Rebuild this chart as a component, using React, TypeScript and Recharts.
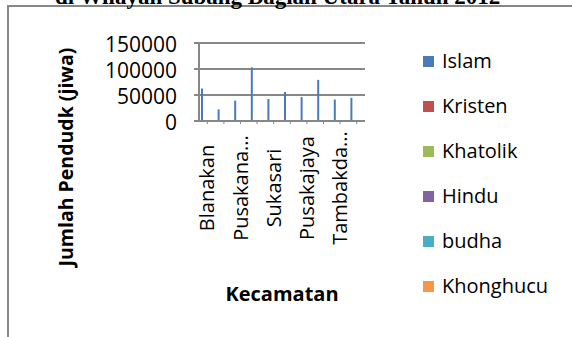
import React from "react";
import { BarChart, Bar, XAxis, YAxis, CartesianGrid, Legend } from "recharts";

const categories = [
  "Blanakan",
  "Legonkulon",
  "Pusakanagara",
  "Ciasem",
  "Sukasari",
  "Patokbeusi",
  "Pusakajaya",
  "Pamanukan",
  "Tambakdahan",
  "Compreng",
];
const islam = [62300, 22300, 39100, 103100, 42200, 55700, 45900, 79100, 41200, 44500];
const kristen = [310, 45, 160, 420, 90, 120, 140, 260, 60, 75];
const khatolik = [120, 20, 70, 210, 40, 55, 60, 130, 25, 30];
const hindu = [12, 3, 5, 20, 2, 4, 6, 10, 1, 3];
const budha = [40, 5, 30, 85, 10, 15, 20, 45, 8, 12];
const khonghucu = [2, 0, 1, 5, 0, 1, 0, 3, 0, 1];
const yTicks = [0, 50000, 100000, 150000];

const seriesNames = ["Islam", "Kristen", "Khatolik", "Hindu", "budha", "Khonghucu"];
const seriesValues = [islam, kristen, khatolik, hindu, budha, khonghucu];
const seriesColors = ["#4A7AB8", "#C0504D", "#9BBB59", "#8064A2", "#4BACC6", "#F79646"];

const data = categories.map((name, i) => {
  const row: any = { name };
  seriesNames.forEach((s, k) => {
    row[s] = seriesValues[k][i];
  });
  return row;
});

const FONT = "'Open Sans', sans-serif";
const GRAY = "#878787";

const shorten = (s: string) => (s.length > 10 ? s.slice(0, 8) + "..." : s);

const XTick = (props: any) => {
  const { x, index, payload } = props;
  if (index % 2 !== 0) return null;
  return (
    <text
      transform={`translate(${x},188) rotate(-90)`}
      textAnchor="middle"
      y={7}
      fontFamily={FONT}
      fontSize={20}
      fill="#000"
    >
      {shorten(payload.value)}
    </text>
  );
};

const LegendContent = (props: any) => {
  const payload = [...(props.payload || [])].sort(
    (a: any, b: any) => seriesNames.indexOf(a.value) - seriesNames.indexOf(b.value)
  );
  return (
    <div style={{ width: 150 }}>
      {payload.map((p: any) => (
        <div
          key={p.value}
          style={{ height: 45, display: "flex", alignItems: "center" }}
        >
          <div style={{ width: 11, height: 11, background: p.color, marginRight: 8 }} />
          <span style={{ fontFamily: FONT, fontSize: 20, color: "#000", lineHeight: "20px" }}>
            {p.value}
          </span>
        </div>
      ))}
    </div>
  );
};

export default function App() {
  return (
    <div
      style={{
        position: "fixed",
        left: 0,
        top: 0,
        width: 572,
        height: 337,
        overflow: "hidden",
        background: "#fff",
      }}
    >
      <div
        style={{
          position: "absolute",
          left: 7,
          top: 5,
          right: 0,
          bottom: 0,
          borderTop: `2px solid ${GRAY}`,
          borderLeft: `2px solid ${GRAY}`,
        }}
      />
      <div style={{ position: "absolute", left: 0, top: 0 }}>
        <BarChart
          width={572}
          height={337}
          data={data}
          margin={{ top: 43, right: 207, left: 0, bottom: 0 }}
          barGap={0}
        >
          <CartesianGrid vertical={false} stroke={GRAY} strokeWidth={2} />
          <XAxis
            dataKey="name"
            interval={0}
            height={216}
            tick={<XTick />}
            tickSize={3}
            axisLine={{ stroke: GRAY, strokeWidth: 2 }}
            tickLine={{ stroke: GRAY, strokeWidth: 1 }}
            label={{
              value: "Kecamatan",
              position: "insideBottom",
              offset: 36,
              fontFamily: FONT,
              fontSize: 20,
              fontWeight: "bold",
              fill: "#000",
            }}
          />
          <YAxis
            width={199}
            domain={[0, 150000]}
            ticks={yTicks}
            interval={0}
            tickSize={5}
            tickMargin={17}
            axisLine={{ stroke: GRAY, strokeWidth: 2 }}
            tickLine={{ stroke: GRAY, strokeWidth: 2 }}
            tick={{ fontFamily: FONT, fontSize: 21, fill: "#000", dy: 2 }}
          />
          <Legend
            layout="vertical"
            align="center"
            verticalAlign="middle"
            wrapperStyle={{ left: 423, top: 38.5, width: 150 }}
            content={<LegendContent />}
          />
          {seriesNames.map((s, k) => (
            <Bar
              key={s}
              dataKey={s}
              fill={seriesColors[k]}
              barSize={2}
              isAnimationActive={false}
            />
          ))}
        </BarChart>
      </div>
      <svg
        width={572}
        height={337}
        style={{ position: "absolute", left: 0, top: 0, pointerEvents: "none" }}
      >
        <text
          x={65}
          y={157}
          transform="rotate(-90 65 157)"
          textAnchor="middle"
          dominantBaseline="central"
          fontFamily={FONT}
          fontSize={19.5}
          fontWeight="bold"
          fill="#000"
        >
          Jumlah Pendudk (jiwa)
        </text>
        <text
          x={55}
          y={3.5}
          fontFamily="'Liberation Serif', 'Times New Roman', serif"
          fontSize={23}
          fontWeight="bold"
          fill="#000"
        >
          di Wilayah Subang Bagian Utara Tahun 2012
        </text>
      </svg>
    </div>
  );
}
